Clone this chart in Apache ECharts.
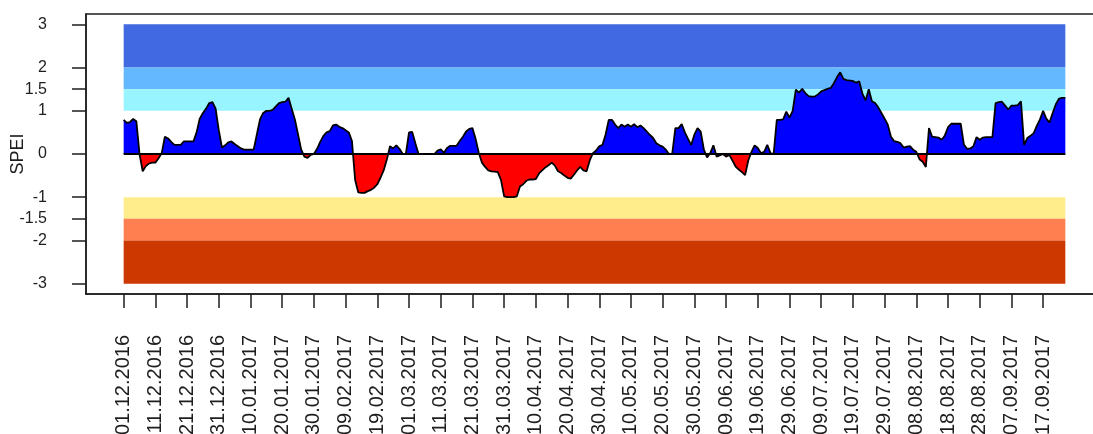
<!DOCTYPE html>
<html>
<head>
<meta charset="utf-8">
<script src="https://cdn.jsdelivr.net/npm/echarts@6/dist/echarts.min.js"></script>
<style>html,body{margin:0;padding:0;background:#fff;}#c{width:1093px;height:434px;}</style>
</head>
<body>
<div id="c"></div>
<script>
// ---- data ----
const startDate = '01.12.2016';
const spei = [
  0.79, 0.72, 0.74, 0.81, 0.76, 0.00, -0.40, -0.28, -0.22, -0.20,
  -0.20, -0.10, 0.02, 0.40, 0.36, 0.28, 0.21, 0.21, 0.21, 0.29,
  0.29, 0.29, 0.29, 0.50, 0.82, 0.95, 1.05, 1.18, 1.20, 1.05,
  0.55, 0.15, 0.20, 0.27, 0.29, 0.23, 0.18, 0.13, 0.10, 0.10,
  0.10, 0.10, 0.45, 0.80, 0.95, 1.00, 1.00, 1.02, 1.10, 1.18,
  1.20, 1.21, 1.30, 1.05, 0.80, 0.45, 0.10, -0.06, -0.09, -0.02,
  0.00, 0.12, 0.28, 0.42, 0.50, 0.53, 0.66, 0.68, 0.63, 0.60,
  0.55, 0.50, 0.30, -0.60, -0.89, -0.90, -0.90, -0.86, -0.83, -0.78,
  -0.70, -0.55, -0.38, -0.13, 0.18, 0.13, 0.20, 0.12, 0.00, 0.00,
  0.50, 0.51, 0.25, 0.00, 0.00, 0.00, 0.00, 0.00, 0.00, 0.08,
  0.11, 0.03, 0.14, 0.19, 0.19, 0.19, 0.30, 0.40, 0.52, 0.58,
  0.60, 0.35, 0.03, -0.20, -0.30, -0.38, -0.40, -0.41, -0.42, -0.60,
  -0.98, -1.00, -1.00, -1.00, -0.98, -0.75, -0.70, -0.62, -0.59, -0.59,
  -0.58, -0.45, -0.38, -0.31, -0.26, -0.20, -0.27, -0.40, -0.44, -0.50,
  -0.55, -0.57, -0.48, -0.38, -0.30, -0.38, -0.40, -0.15, 0.02, 0.08,
  0.18, 0.21, 0.45, 0.79, 0.79, 0.68, 0.60, 0.68, 0.63, 0.68,
  0.63, 0.69, 0.62, 0.66, 0.60, 0.52, 0.44, 0.37, 0.25, 0.20,
  0.17, 0.10, 0.00, 0.00, 0.60, 0.60, 0.69, 0.50, 0.35, 0.21,
  0.45, 0.60, 0.52, 0.10, -0.08, 0.02, 0.20, -0.06, -0.03, 0.00,
  -0.06, -0.02, -0.15, -0.29, -0.36, -0.42, -0.49, -0.15, 0.05, 0.20,
  0.14, 0.02, 0.05, 0.21, 0.02, 0.00, 0.79, 0.79, 0.80, 0.98,
  0.84, 1.00, 1.49, 1.42, 1.51, 1.41, 1.34, 1.33, 1.33, 1.38,
  1.45, 1.48, 1.51, 1.53, 1.64, 1.78, 1.89, 1.74, 1.71, 1.70,
  1.69, 1.65, 1.68, 1.40, 1.24, 1.50, 1.22, 1.18, 1.08, 0.95,
  0.82, 0.68, 0.40, 0.30, 0.28, 0.25, 0.15, 0.17, 0.18, 0.10,
  0.05, -0.12, -0.18, -0.30, 0.60, 0.40, 0.39, 0.38, 0.33, 0.43,
  0.62, 0.70, 0.70, 0.70, 0.70, 0.22, 0.12, 0.13, 0.18, 0.39,
  0.33, 0.38, 0.39, 0.39, 0.39, 1.18, 1.20, 1.21, 1.12, 1.03,
  1.12, 1.12, 1.13, 1.22, 0.21, 0.37, 0.42, 0.48, 0.65, 0.80,
  1.00, 0.82, 0.73, 0.95, 1.15, 1.28, 1.30, 1.30
];
const tickLabels = [
  '01.12.2016','11.12.2016','21.12.2016','31.12.2016','10.01.2017','20.01.2017',
  '30.01.2017','09.02.2017','19.02.2017','01.03.2017','11.03.2017','21.03.2017',
  '31.03.2017','10.04.2017','20.04.2017','30.04.2017','10.05.2017','20.05.2017',
  '30.05.2017','09.06.2017','19.06.2017','29.06.2017','09.07.2017','19.07.2017',
  '29.07.2017','08.08.2017','18.08.2017','28.08.2017','07.09.2017','17.09.2017'
];
const yTicks = [-3, -2, -1.5, -1, 0, 1, 1.5, 2, 3];
const bandLimits = [[2, 3], [1.5, 2], [1, 1.5], [-1.5, -1], [-2, -1.5], [-3, -2]];
const bandColors = ['#4169E1', '#63B8FF', '#98F5FF', '#FFEC8B', '#FF7F50', '#CD3700'];
const posColor = '#0000FF';
const negColor = '#FF0000';

// ---- helpers ----
function parseDMY(s) { const p = s.split('.').map(Number); return Date.UTC(p[2], p[1] - 1, p[0]); }
const DAY = 86400000;
const t0 = parseDMY(startDate);
const tickDays = tickLabels.map(s => Math.round((parseDMY(s) - t0) / DAY));
const lastDay = spei.length - 1;
const xPad = lastDay * 0.04;
const yPad = 6 * 0.04;
const seriesData = spei.map((v, i) => [i, v]);

const FONT = '"Liberation Sans", Arial, Helvetica, sans-serif';
const TXT = '#1e1e1e';

const chart = echarts.init(document.getElementById('c'), null, { renderer: 'canvas' });
chart.setOption({
  animation: false,
  backgroundColor: '#ffffff',
  grid: {
    left: 86, top: 14, width: 1017, height: 280,
    outerBoundsMode: 'none',
    show: true, borderColor: '#1e1e1e', borderWidth: 1.5, backgroundColor: 'transparent',
    containLabel: false
  },
  xAxis: {
    type: 'value',
    min: -xPad, max: lastDay + xPad,
    splitLine: { show: false },
    axisLine: { show: true, onZero: false, lineStyle: { color: '#1e1e1e', width: 1.5 } },
    axisTick: { show: true, length: 14, customValues: tickDays, lineStyle: { color: '#1e1e1e', width: 1.5 } },
    axisLabel: {
      show: true, rotate: 90, margin: 41, customValues: tickDays,
      fontFamily: FONT, fontSize: 20, color: TXT,
      formatter: function (v) { const i = tickDays.indexOf(Math.round(v)); return i >= 0 ? tickLabels[i] : ''; }
    }
  },
  yAxis: {
    type: 'value',
    min: -3 - yPad, max: 3 + yPad,
    name: 'SPEI', nameLocation: 'middle', nameGap: 59, nameRotate: 90,
    nameMoveOverlap: false,
    nameTextStyle: { fontFamily: FONT, fontSize: 18, color: TXT },
    splitLine: { show: false },
    axisLine: { show: true, onZero: false, lineStyle: { color: '#1e1e1e', width: 1.5 } },
    axisTick: { show: true, length: 14, customValues: yTicks, lineStyle: { color: '#1e1e1e', width: 1.5 } },
    axisLabel: {
      show: true, margin: 39, customValues: yTicks,
      fontFamily: FONT, fontSize: 16, color: TXT,
      formatter: function (v) { return String(v); }
    }
  },
  series: [
    {
      id: 'bands', type: 'line', data: [], silent: true, z: 1,
      markArea: {
        silent: true,
        data: bandLimits.map((b, i) => [
          { xAxis: 0, yAxis: b[0], itemStyle: { color: bandColors[i], opacity: 1 } },
          { xAxis: lastDay, yAxis: b[1] }
        ])
      }
    },
    {
      id: 'spei', type: 'line', data: seriesData, z: 3,
      showSymbol: false, symbol: 'none', silent: true,
      lineStyle: { color: '#000000', width: 1.8 },
      areaStyle: { opacity: 1, origin: 0, color: posColor },
      markLine: {
        silent: true, symbol: 'none', label: { show: false },
        lineStyle: { color: '#000000', width: 2, type: 'solid' },
        data: [[{ coord: [0, 0] }, { coord: [lastDay, 0] }]]
      }
    }
  ]
});

// split the fill colour at SPEI = 0 using the axis scale
const topPx = chart.convertToPixel({ yAxisIndex: 0 }, 3 + yPad);
const botPx = chart.convertToPixel({ yAxisIndex: 0 }, -3 - yPad);
const zeroPx = chart.convertToPixel({ yAxisIndex: 0 }, 0);
const f = (zeroPx - topPx) / (botPx - topPx);
chart.setOption({
  series: [{
    id: 'spei',
    areaStyle: {
      opacity: 1, origin: 0,
      color: {
        type: 'linear', global: true, x: 0, y: topPx, x2: 0, y2: botPx,
        colorStops: [
          { offset: 0, color: posColor }, { offset: f, color: posColor },
          { offset: f, color: negColor }, { offset: 1, color: negColor }
        ]
      }
    }
  }]
});
</script>
</body>
</html>
